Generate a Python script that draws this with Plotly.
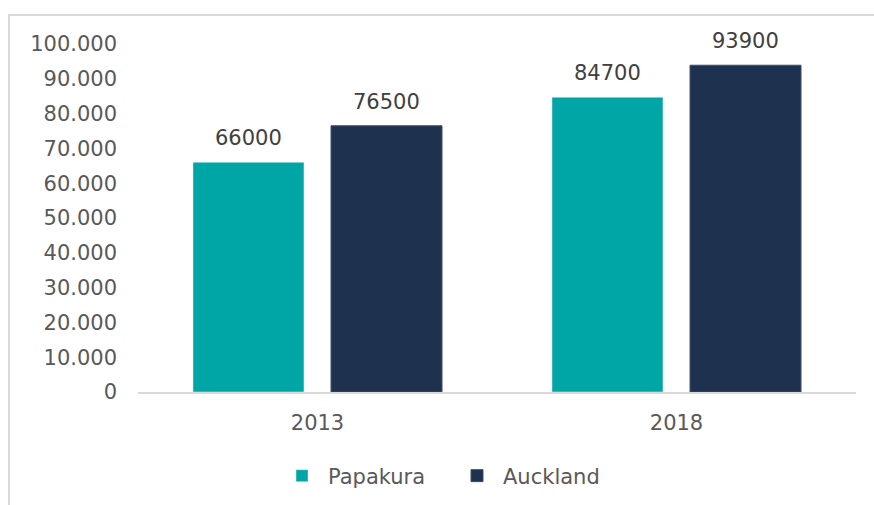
import plotly.graph_objects as go

years = ["2013", "2018"]
papakura = [66000, 84700]
auckland = [76500, 93900]
y_ticks = [0, 10000, 20000, 30000, 40000, 50000, 60000, 70000, 80000, 90000, 100000]
y_tick_labels = ["0", "10.000", "20.000", "30.000", "40.000", "50.000", "60.000", "70.000", "80.000", "90.000", "100.000"]

FONT = "DejaVu Sans"
GRAY = "#595959"
LABEL = "#404040"
FS = 21

fig = go.Figure()
fig.add_trace(go.Bar(name="Papakura", x=years, y=papakura, marker_color="#00A6A6"))
fig.add_trace(go.Bar(name="Auckland", x=years, y=auckland, marker_color="#1E3250",
                     marker_line=dict(color="#3A4E6C", width=1)))

L, R, T, B = 138, 18, 44, 113
W, H = 874, 505
pw, ph = W - L - R, H - T - B

def px_x(x):
    return (x - L) / pw

def px_y(y):
    return (H - B - y) / ph

annotations = []
for series, shift in ((papakura, -69), (auckland, 69)):
    for i, v in enumerate(series):
        annotations.append(dict(x=i, y=v, xref="x", yref="y", text=str(v), showarrow=False,
                                xshift=shift, yshift=24, yanchor="middle",
                                font=dict(size=FS, color=LABEL, family=FONT)))

fig.update_layout(
    width=W, height=H,
    margin=dict(l=L, r=R, t=T, b=B, autoexpand=False),
    paper_bgcolor="white", plot_bgcolor="white",
    barmode="group", bargap=0.231, bargroupgap=0.196,
    font=dict(family=FONT, size=FS, color=GRAY),
    showlegend=True,
    legend=dict(orientation="h", x=px_x(451), xanchor="center", y=px_y(476), yanchor="middle",
                font=dict(size=FS, color=GRAY, family=FONT), itemwidth=42, traceorder="normal",
                entrywidth=118, entrywidthmode="pixels"),
    xaxis=dict(type="category", range=[-0.5, 1.5], showline=True, linecolor="#D9D9D9", linewidth=2,
               showgrid=False, ticks="", tickfont=dict(size=FS, color=GRAY), ticklabelstandoff=11),
    yaxis=dict(range=[0, 100000], tickvals=y_ticks, ticktext=y_tick_labels, showgrid=False,
               showline=False, zeroline=False, ticks="", tickfont=dict(size=FS, color=GRAY),
               ticklabelstandoff=20),
    annotations=annotations,
    shapes=[dict(type="rect", xref="paper", yref="paper",
                 x0=px_x(9), x1=px_x(W + 20), y0=px_y(H + 20), y1=px_y(15),
                 line=dict(color="#D9D9D9", width=2), layer="below")],
)

fig.write_html("out.html", config={"displayModeBar": False},
               post_script="document.body.style.margin='0';document.body.style.overflow='hidden';")
